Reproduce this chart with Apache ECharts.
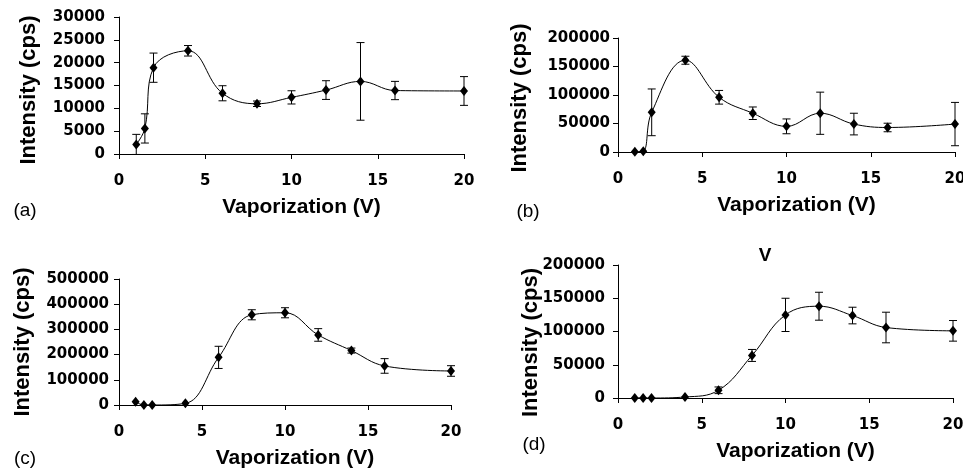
<!DOCTYPE html>
<html>
<head>
<meta charset="utf-8">
<script src="https://cdn.jsdelivr.net/npm/echarts@6.0.0/dist/echarts.min.js"></script>
<style>
    html, body { margin: 0; padding: 0; background: #fff; }
    #main { width: 963px; height: 468px; }
</style>
</head>
<body>
<div id="main"></div>
<script>
// vaporization voltages (same for all four panels)
var voltage = [1, 1.5, 2, 4, 6, 8, 10, 12, 14, 16, 20];
var xTicks = [0, 5, 10, 15, 20];

// (a)
var intensityA = [2100, 5600, 18900, 22600, 13300, 11000, 12400, 14000, 15900, 13900, 13800];
var errorA = [2200, 3200, 3200, 1150, 1650, 600, 1450, 2050, 8500, 2000, 3150];
var yTicksA = [0, 5000, 10000, 15000, 20000, 25000, 30000];

// (b)
var intensityB = [500, 1500, 69600, 161000, 96000, 68000, 45000, 68000, 49000, 43000, 49000];
var errorB = [0, 0, 41000, 7000, 12000, 11000, 13000, 37000, 19000, 7500, 38000];
var yTicksB = [0, 50000, 100000, 150000, 200000];

// (c)
var intensityC = [13000, 0, 0, 6600, 189000, 358000, 366000, 278000, 216000, 155000, 135000];
var errorC = [0, 0, 0, 0, 44000, 20000, 20000, 25000, 10000, 29000, 21000];
var yTicksC = [0, 100000, 200000, 300000, 400000, 500000];

// (d)
var intensityD = [0, 0, 0, 1500, 11600, 64000, 125000, 138000, 124000, 106000, 101000];
var errorD = [0, 0, 0, 0, 5000, 9000, 25000, 21000, 12500, 23000, 15500];
var yTicksD = [0, 50000, 100000, 150000, 200000];

var tickFont = {fontFamily: 'DejaVu Sans', fontWeight: 'bold', fontSize: 15, color: '#000'};
var nameFont = {fontFamily: 'Liberation Sans', fontWeight: 'bold', color: '#000'};

var panels = [
    {values: intensityA, errors: errorA, yTicks: yTicksA, letter: '(a)', letterPos: [25, 211],
        grid: {left: 119, top: 17, width: 345, height: 137}, yMargin: 14, yGap: 79, yShift: 9},
    {values: intensityB, errors: errorB, yTicks: yTicksB, letter: '(b)', letterPos: [528, 212],
        grid: {left: 618, top: 38, width: 337, height: 114}, yMargin: 8, yGap: 87, yShift: 6},
    {values: intensityC, errors: errorC, yTicks: yTicksC, letter: '(c)', letterPos: [25, 459],
        grid: {left: 119, top: 279, width: 332, height: 126}, yMargin: 10, yGap: 85, yShift: 0},
    {values: intensityD, errors: errorD, yTicks: yTicksD, letter: '(d)', letterPos: [534, 445],
        grid: {left: 618, top: 265, width: 335, height: 133}, yMargin: 13, yGap: 76, yShift: 22}
];

function plainNumber(v) {
    return String(v);
}

function errorBar(params, api) {
    var x = api.value(0), y = api.value(1), e = api.value(2);
    if (!e) {
        return null;
    }
    var hi = api.coord([x, y + e]);
    var lo = api.coord([x, y - e]);
    var w = 4;
    var style = {stroke: '#000', lineWidth: 1};
    return {
        type: 'group',
        children: [
            {type: 'line', shape: {x1: hi[0], y1: hi[1], x2: lo[0], y2: lo[1]}, style: style},
            {type: 'line', shape: {x1: hi[0] - w, y1: hi[1], x2: hi[0] + w, y2: hi[1]}, style: style},
            {type: 'line', shape: {x1: lo[0] - w, y1: lo[1], x2: lo[0] + w, y2: lo[1]}, style: style}
        ]
    };
}

var grids = [], xAxes = [], yAxes = [], series = [], texts = [];

for (var i = 0; i < panels.length; i++) {
    var p = panels[i];
    var g = p.grid;
    grids.push({left: g.left, top: g.top, width: g.width, height: g.height,
        containLabel: false, outerBoundsMode: 'none'});

    xAxes.push({
        gridIndex: i, type: 'value',
        min: xTicks[0], max: xTicks[xTicks.length - 1], interval: xTicks[1] - xTicks[0],
        splitLine: {show: false},
        axisLine: {show: true, onZero: false, lineStyle: {color: '#000', width: 1}},
        axisTick: {show: true, length: 5, lineStyle: {color: '#000'}},
        axisLabel: Object.assign({margin: 20, formatter: plainNumber}, tickFont),
        name: 'Vaporization (V)', nameLocation: 'middle', nameGap: 43, nameMoveOverlap: false,
        nameTextStyle: Object.assign({fontSize: 21, padding: [0, 0, 0, 20]}, nameFont)
    });

    var yt = p.yTicks;
    yAxes.push({
        gridIndex: i, type: 'value',
        min: yt[0], max: yt[yt.length - 1], interval: yt[1] - yt[0],
        splitLine: {show: false},
        axisLine: {show: true, lineStyle: {color: '#000', width: 1}},
        axisTick: {show: true, length: 5, lineStyle: {color: '#000'}},
        axisLabel: Object.assign({margin: p.yMargin, formatter: plainNumber}, tickFont),
        name: 'Intensity (cps)', nameLocation: 'middle', nameGap: p.yGap, nameMoveOverlap: false,
        nameTextStyle: Object.assign({fontSize: 22, padding: [0, p.yShift, 0, 0]}, nameFont)
    });

    var pts = [], bars = [];
    for (var j = 0; j < voltage.length; j++) {
        pts.push([voltage[j], p.values[j]]);
        bars.push([voltage[j], p.values[j], p.errors[j]]);
    }

    series.push({
        type: 'custom', xAxisIndex: i, yAxisIndex: i,
        renderItem: errorBar, data: bars, clip: false, z: 2, silent: true
    });
    series.push({
        type: 'line', xAxisIndex: i, yAxisIndex: i,
        data: pts, smooth: 0.4,
        symbol: 'diamond', symbolSize: [8, 10],
        itemStyle: {color: '#000'},
        lineStyle: {color: '#000', width: 1},
        z: 3, silent: true
    });

    texts.push({
        type: 'text', x: p.letterPos[0], y: p.letterPos[1],
        style: {text: p.letter, font: '19px "Liberation Sans"', fill: '#000',
            textAlign: 'center', textVerticalAlign: 'middle'}
    });
}

// stray title above panel (d)
texts.push({
    type: 'text', x: 765, y: 256,
    style: {text: 'V', font: 'bold 19px "Liberation Sans"', fill: '#000',
        textAlign: 'center', textVerticalAlign: 'middle'}
});

var chart = echarts.init(document.getElementById('main'));
chart.setOption({
    animation: false,
    backgroundColor: '#fff',
    grid: grids,
    xAxis: xAxes,
    yAxis: yAxes,
    series: series,
    graphic: texts
});
</script>
</body>
</html>
